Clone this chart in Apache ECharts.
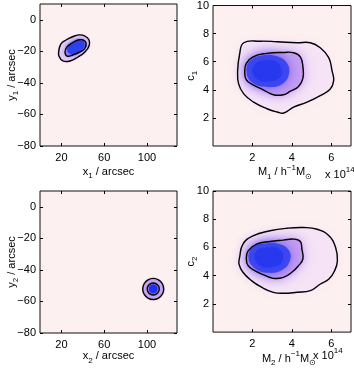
<!DOCTYPE html>
<html>
<head>
<meta charset="utf-8">
<script src="https://cdn.jsdelivr.net/npm/echarts@6/dist/echarts.min.js"></script>
<style>
  html, body { margin: 0; padding: 0; background: #fff; }
  #main { width: 354px; height: 368px; }
</style>
</head>
<body>
<div id="main"></div>
<script>
// tick values
var posTicksX = [20, 60, 100];
var posTicksY = [-80, -60, -40, -20, 0];
var massTicksX = [2, 4, 6];
var concTicksY = [2, 4, 6, 8, 10];

// panel 1: (x1, y1) position, contours
var pos1Outer = [[17.7, -19.2], [19.6, -15.3], [24.3, -12.8], [29.9, -10.9], [36.4, -9.6], [42.0, -10.3],
                 [45.8, -12.8], [45.8, -16.6], [42.0, -20.4], [35.5, -23.6], [28.0, -26.1], [21.5, -26.1], [17.7, -23.0]];
var pos1Inner = [[23.4, -20.4], [25.2, -17.2], [29.9, -14.7], [35.5, -12.8], [40.2, -12.8], [43.0, -14.7],
                 [42.0, -17.9], [37.4, -20.4], [30.8, -22.3], [25.2, -23.0]];
var pos1Core = [[25.5, -19.5], [27.5, -16], [33, -13.6], [38, -13.2], [41.5, -14.8], [40.5, -17.8], [36, -20.4], [30, -22]];

// panel 2: (M1, c1)
var mc1Outer = [[1.56, 7.35], [2.40, 7.46], [3.25, 7.42], [4.26, 7.35], [4.94, 7.35], [5.44, 6.99], [5.87, 6.29],
                [6.04, 5.35], [6.12, 4.65], [5.95, 4.06], [5.44, 3.59], [4.77, 3.12], [4.09, 2.77], [3.59, 2.35],
                [3.25, 2.42], [2.74, 2.65], [2.06, 3.12], [1.56, 3.71], [1.30, 4.42], [1.25, 5.35], [1.35, 6.53]];
var mc1Inner = [[1.69, 5.88], [2.03, 6.35], [2.72, 6.59], [3.57, 6.66], [4.09, 6.64], [4.43, 6.35], [4.56, 5.65],
                [4.56, 4.82], [4.34, 4.24], [3.91, 3.88], [3.57, 3.65], [3.06, 3.65], [2.55, 4.0], [2.03, 4.35],
                [1.69, 4.71], [1.61, 5.29]];
var mc1Core = [[1.7, 5.3], [1.9, 6.1], [2.5, 6.45], [3.2, 6.4], [3.75, 5.9], [3.85, 5.1], [3.5, 4.4], [2.8, 4.2], [2.0, 4.5]];
var mc1Heart = [[2.0, 5.3], [2.2, 5.9], [2.7, 6.1], [3.2, 6.0], [3.45, 5.5], [3.4, 4.9], [2.9, 4.6], [2.3, 4.7]];

// panel 3: (x2, y2) position
var pos2Outer = [[115.6, -52.1], [114.3, -48.8], [110.7, -46.3], [105.8, -45.4], [100.9, -46.3], [97.3, -48.8],
                 [96.0, -52.1], [97.3, -55.4], [100.9, -57.9], [105.8, -58.8], [110.7, -57.9], [114.3, -55.4]];
var pos2Inner = [[111.4, -52.0], [110.6, -50.2], [108.6, -48.8], [105.8, -48.3], [103.0, -48.8], [101.0, -50.2],
                 [100.2, -52.0], [101.0, -54.0], [103.0, -55.4], [105.8, -55.9], [108.6, -55.4], [110.6, -54.0]];
var pos2Core = [[109.8, -52], [108.8, -50], [105.8, -49.3], [102.8, -50], [101.8, -52], [102.8, -54], [105.8, -54.9], [108.8, -54]];

// panel 4: (M2, c2)
var mc2Outer = [[1.35, 5.29], [1.52, 6.24], [2.03, 6.82], [2.89, 7.18], [3.74, 7.36], [4.60, 7.41], [5.28, 7.29],
                [5.88, 6.82], [6.22, 6.0], [6.31, 5.06], [6.17, 4.35], [5.88, 3.76], [5.45, 3.41], [4.94, 2.94],
                [4.26, 2.82], [3.57, 2.75], [3.06, 2.82], [2.46, 3.18], [1.95, 3.65], [1.52, 4.24], [1.32, 4.82]];
var mc2Inner = [[1.78, 5.76], [2.21, 6.24], [2.89, 6.42], [3.57, 6.52], [4.09, 6.59], [4.43, 6.42], [4.51, 5.88],
                [4.56, 5.18], [4.34, 4.71], [4.0, 4.24], [3.57, 3.88], [3.06, 3.81], [2.55, 4.07], [2.12, 4.35],
                [1.78, 4.71], [1.69, 5.18]];
var mc2Core = [[1.8, 5.3], [2.05, 6.05], [2.7, 6.3], [3.35, 6.25], [3.85, 5.8], [3.9, 5.05], [3.5, 4.4], [2.8, 4.2], [2.1, 4.55]];
var mc2Heart = [[2.1, 5.3], [2.3, 5.85], [2.8, 6.0], [3.3, 5.95], [3.55, 5.45], [3.45, 4.9], [2.95, 4.6], [2.4, 4.7]];

var FONT = 'Liberation Sans, Arial, sans-serif';
var rich = {
    n: { fontFamily: FONT, fontSize: 11, lineHeight: 17, color: '#000' },
    sub: { fontFamily: FONT, fontSize: 8, lineHeight: 8, verticalAlign: 'bottom', color: '#000' },
    sup: { fontFamily: FONT, fontSize: 8, lineHeight: 8, verticalAlign: 'top', color: '#000' },
    up: { fontFamily: FONT, fontSize: 11, padding: [0, 0, 7, 0], color: '#000' }
};

function fmt(v) { return String(v).replace('-', '\u2212'); }

var grids = [
    { left: 40, top: 4, width: 137, height: 142 },
    { left: 213, top: 4, width: 138, height: 142 },
    { left: 40, top: 191, width: 137, height: 142 },
    { left: 213, top: 191, width: 138, height: 142 }
];

var panels = [
    { xr: [0, 128], yr: [-80, 10], xt: posTicksX, yt: posTicksY,
      xname: '{n|x}{sub|1}{n| / arcsec}', yname: '{n|y}{sub|1}{n| / arcsec}', ygap: 20 },
    { xr: [0, 7], yr: [0, 10], xt: massTicksX, yt: concTicksY,
      xname: '{n|M}{sub|1}{n| / h}{sup|\u22121}{n|M}{sub|\u2299}', yname: '{n|c}{sub|1}', ygap: 14 },
    { xr: [0, 128], yr: [-80, 10], xt: posTicksX, yt: posTicksY,
      xname: '{n|x}{sub|2}{n| / arcsec}', yname: '{n|y}{sub|2}{n| / arcsec}', ygap: 20 },
    { xr: [0, 7], yr: [0, 10], xt: massTicksX, yt: concTicksY,
      xname: '{n|M}{sub|2}{n| / h}{sup|\u22121}{n|M}{sub|\u2299}', yname: '{n|c}{sub|2}', ygap: 14, raise4: true }
];

var xAxes = [], yAxes = [];
panels.forEach(function (p, i) {
    var tick = { show: true, inside: true, length: 3, lineStyle: { color: '#000' } };
    var noLine = { show: false, onZero: false };
    xAxes.push({
        gridIndex: i, type: 'value', position: 'bottom', min: p.xr[0], max: p.xr[1],
        axisLine: noLine, splitLine: { show: false },
        axisTick: Object.assign({}, tick, { customValues: p.xt }),
        axisLabel: {
            customValues: p.xt, margin: 6, fontFamily: FONT, fontSize: 11, color: '#000',
            formatter: function (v) { return (p.raise4 && v === 4) ? '{up|4}' : fmt(v); }, rich: rich
        },
        name: p.xname, nameLocation: 'middle', nameGap: i < 2 ? 17 : 13,
        nameTextStyle: { rich: rich, padding: i === 3 ? [0, 0, 0, 14] : (i === 1 ? [0, 0, 0, 6] : 0) }
    });
    xAxes.push({
        gridIndex: i, type: 'value', position: 'top', min: p.xr[0], max: p.xr[1],
        axisLine: noLine, splitLine: { show: false }, axisLabel: { show: false },
        axisTick: Object.assign({}, tick, { customValues: p.xt })
    });
    yAxes.push({
        gridIndex: i, type: 'value', position: 'left', min: p.yr[0], max: p.yr[1],
        axisLine: noLine, splitLine: { show: false },
        axisTick: Object.assign({}, tick, { customValues: p.yt }),
        axisLabel: { customValues: p.yt, margin: 4, fontFamily: FONT, fontSize: 11, color: '#000', formatter: fmt },
        name: p.yname, nameLocation: 'middle', nameGap: p.ygap, nameRotate: 90, nameMoveOverlap: false,
        nameTextStyle: { rich: rich }
    });
    yAxes.push({
        gridIndex: i, type: 'value', position: 'right', min: p.yr[0], max: p.yr[1],
        axisLine: noLine, splitLine: { show: false }, axisLabel: { show: false },
        axisTick: Object.assign({}, tick, { customValues: p.yt })
    });
});

function poly(pts, gi, style, z) {
    return {
        type: 'custom', xAxisIndex: gi * 2, yAxisIndex: gi * 2, data: pts, z: z, silent: true, clip: true,
        renderItem: function (params, api) {
            if (params.dataIndex !== 0) return null;
            var pp = pts.map(function (d) { return api.coord(d); });
            return { type: 'polygon', shape: { points: pp, smooth: 0.45 }, style: style };
        }
    };
}

function fill(color, blur, shadow) {
    return { fill: color, shadowBlur: blur, shadowColor: shadow || color };
}
var line = { fill: 'none', stroke: '#000', lineWidth: 1.4 };

var series = [
    // panel 1
    poly(pos1Outer, 0, fill('#e4caf4', 3), 2),
    poly(pos1Inner, 0, fill('#a88cf0', 4), 3),
    poly(pos1Core, 0, fill('#2c40ee', 4), 4),
    poly(pos1Outer, 0, line, 9),
    poly(pos1Inner, 0, line, 9),
    // panel 2
    poly(mc1Outer, 1, fill('#f6e4f6', 10), 2),
    poly(mc1Inner, 1, fill('#e0c4f4', 18), 3),
    poly(mc1Inner, 1, fill('#c79ef2', 8), 3),
    poly(mc1Core, 1, fill('#4048f0', 14, '#7460f0'), 4),
    poly(mc1Heart, 1, fill('#2838ee', 10, '#3040ee'), 5),
    poly(mc1Outer, 1, line, 9),
    poly(mc1Inner, 1, line, 9),
    // panel 3
    poly(pos2Outer, 2, fill('#c4a4ee', 2), 2),
    poly(pos2Core, 2, fill('#2030f0', 3), 4),
    poly(pos2Outer, 2, line, 9),
    poly(pos2Inner, 2, line, 9),
    // panel 4
    poly(mc2Outer, 3, fill('#f6e4f6', 10), 2),
    poly(mc2Inner, 3, fill('#e0c4f4', 18), 3),
    poly(mc2Inner, 3, fill('#c79ef2', 8), 3),
    poly(mc2Core, 3, fill('#4048f0', 14, '#7460f0'), 4),
    poly(mc2Heart, 3, fill('#2838ee', 10, '#3040ee'), 5),
    poly(mc2Outer, 3, line, 9),
    poly(mc2Inner, 3, line, 9)
];

var chart = echarts.init(document.getElementById('main'));
chart.setOption({
    animation: false,
    backgroundColor: '#fff',
    grid: grids.map(function (g) {
        return Object.assign({ show: true, backgroundColor: '#fdf0f0', borderColor: '#111', borderWidth: 1 }, g);
    }),
    xAxis: xAxes,
    yAxis: yAxes,
    series: series,
    graphic: [
        { type: 'text', left: 325, top: 166, style: { text: '{n|x 10}{sup|14}', rich: rich } },
        { type: 'text', left: 313, top: 347, style: { text: '{n|x 10}{sup|14}', rich: rich } }
    ]
});
</script>
</body>
</html>
